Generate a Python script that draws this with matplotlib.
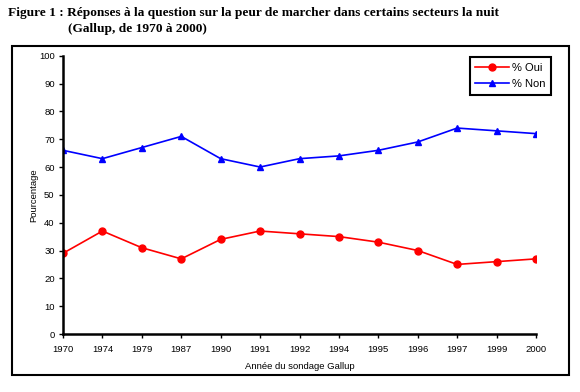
import matplotlib
matplotlib.use("Agg")
import matplotlib.pyplot as plt
from matplotlib.patches import Rectangle

# Data
years = ["1970", "1974", "1979", "1987", "1990", "1991", "1992",
         "1994", "1995", "1996", "1997", "1999", "2000"]
oui = [29, 37, 31, 27, 34, 37, 36, 35, 33, 30, 25, 26, 27]
non = [66, 63, 67, 71, 63, 60, 63, 64, 66, 69, 74, 73, 72]
yticks = list(range(0, 101, 10))

W, H = 580, 392
fig = plt.figure(figsize=(W / 100, H / 100), dpi=100)

# Title (serif bold)
fig.text(8 / W, 1 - 13 / H,
         "Figure 1 : Réponses à la question sur la peur de marcher dans certains secteurs la nuit",
         family="Liberation Serif", fontweight="bold", fontsize=9.6, va="center", ha="left")
fig.text(68 / W, 1 - 29 / H, "(Gallup, de 1970 à 2000)",
         family="Liberation Serif", fontweight="bold", fontsize=9.6, va="center", ha="left")

# Outer chart frame
fig.patches.append(Rectangle((12 / W, 1 - 375 / H), (569 - 12) / W, (375 - 46) / H,
                             transform=fig.transFigure, fill=False,
                             edgecolor="black", linewidth=1.5))

left, right, top, bottom = 63, 536, 55.7, 334
ax = fig.add_axes([left / W, 1 - bottom / H, (right - left) / W, (bottom - top) / H])

x = list(range(len(years)))
ax.plot(x, oui, color="#ff0000", marker="o", markersize=5, linewidth=1.2, label="% Oui")
ax.plot(x, non, color="#0000ff", marker="^", markersize=5, linewidth=1.2, label="% Non")

ax.set_xlim(0, len(years) - 1)
ax.set_ylim(0, 100)
ax.set_xticks(x)
ax.set_xticklabels(years)
ax.set_yticks(yticks)

for s in ["top", "right"]:
    ax.spines[s].set_visible(False)
for s in ["left", "bottom"]:
    ax.spines[s].set_linewidth(1.8)

ax.tick_params(axis="both", direction="out", length=3, width=1, labelsize=6.8, pad=3)
for lbl in ax.get_xticklabels() + ax.get_yticklabels():
    lbl.set_family("Liberation Sans")
ax.tick_params(axis="x", pad=5)

ax.set_xlabel("Année du sondage Gallup", family="Liberation Sans", fontsize=6.8, labelpad=6)
ax.set_ylabel("Pourcentage", family="Liberation Sans", fontsize=6.8, labelpad=0.5)

leg = ax.legend(loc="upper right", bbox_to_anchor=((551 - left) / (right - left), 1 - (57 - top) / (bottom - top)),
                borderaxespad=0,
                prop={"family": "Liberation Sans", "size": 8}, fancybox=False,
                edgecolor="black", framealpha=1, handlelength=3, borderpad=0.5,
                labelspacing=0.6, handletextpad=0.3)
leg.get_frame().set_linewidth(1.5)
leg.set_clip_on(False)

fig.savefig("out.png", dpi=100)
